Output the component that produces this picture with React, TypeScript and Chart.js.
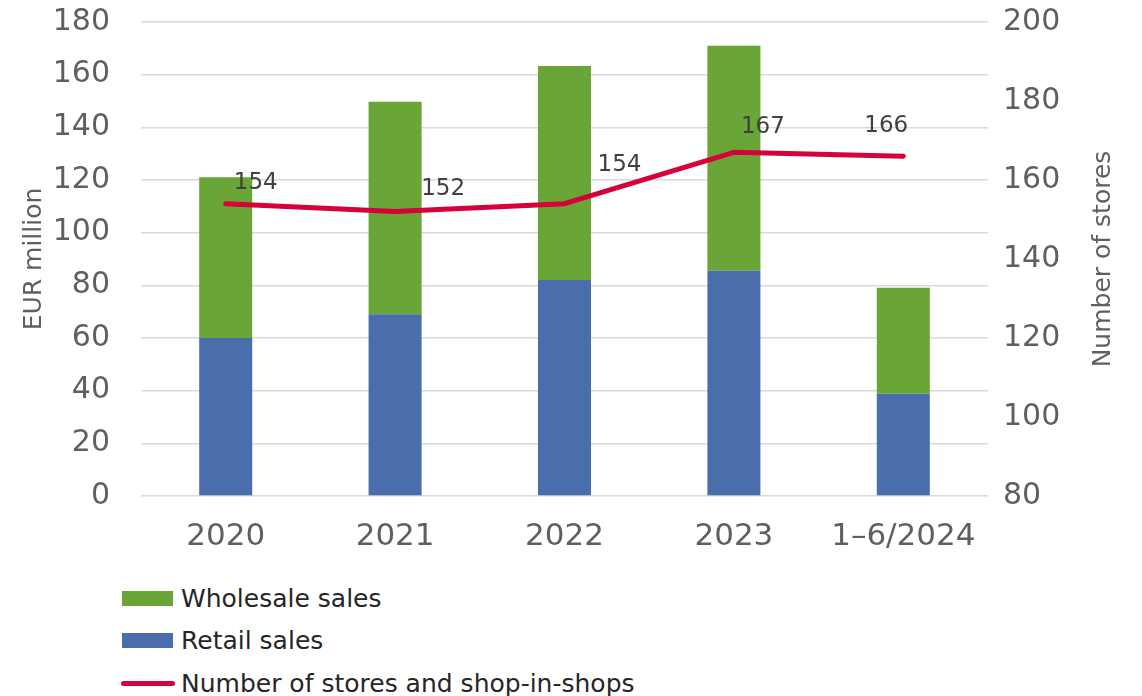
import React, { useEffect, useRef } from "react";
import { Chart, registerables } from "chart.js";

Chart.register(...registerables);

const categories = ["2020", "2021", "2022", "2023", "1–6/2024"];
const retailSales = [60, 69, 82, 85.5, 38.8];
const wholesaleSales = [61, 80.7, 81.3, 85.5, 40.3];
const storeCounts = [154, 152, 154, 167, 166];

const leftTicks = { min: 0, max: 180, step: 20 };
const rightTicks = { min: 80, max: 200, step: 20 };

const leftTitle = "EUR million";
const rightTitle = "Number of stores";

const GREEN = "#6AA637";
const BLUE = "#4A6DAB";
const RED = "#D6003A";
const FONT = "'DejaVu Sans', sans-serif";
const AXIS_GREY = "#5f5f5f";

// label placement (dx, dy) relative to each line point, as in the reference
const labelOffsets: [number, number][] = [
  [30, -21],
  [48, -23],
  [55, -39],
  [29, -25],
  [-17, -30],
];

const lineLabelPlugin = {
  id: "lineLabels",
  afterDatasetsDraw(chart: any) {
    const idx = chart.data.datasets.findIndex((d: any) => d.type === "line");
    if (idx < 0) return;
    const meta = chart.getDatasetMeta(idx);
    const ctx = chart.ctx;
    ctx.save();
    ctx.font = `23px ${FONT}`;
    ctx.fillStyle = "#404040";
    ctx.textAlign = "center";
    ctx.textBaseline = "middle";
    meta.data.forEach((pt: any, i: number) => {
      const [dx, dy] = labelOffsets[i] || [0, -20];
      ctx.fillText(String(chart.data.datasets[idx].data[i]), pt.x + dx, pt.y + dy);
    });
    ctx.restore();
  },
};

// right axis title reads bottom-to-top, like the left one
const rightTitlePlugin = {
  id: "rightTitle",
  afterDraw(chart: any) {
    const s = chart.scales.y1;
    const ctx = chart.ctx;
    ctx.save();
    ctx.translate(s.right - 39, (s.top + s.bottom) / 2);
    ctx.rotate(-Math.PI / 2);
    ctx.font = `25px ${FONT}`;
    ctx.fillStyle = AXIS_GREY;
    ctx.textAlign = "center";
    ctx.textBaseline = "middle";
    ctx.fillText(rightTitle, 0, 0);
    ctx.restore();
  },
};

export default function App() {
  const ref = useRef<HTMLCanvasElement>(null);

  useEffect(() => {
    if (!ref.current) return;
    const chart = new Chart(ref.current, {
      type: "bar",
      data: {
        labels: categories,
        datasets: [
          {
            type: "line",
            label: "Number of stores and shop-in-shops",
            data: storeCounts,
            yAxisID: "y1",
            borderColor: RED,
            backgroundColor: RED,
            borderWidth: 5,
            borderCapStyle: "round",
            borderJoinStyle: "round",
            pointRadius: 0,
            tension: 0,
            order: 0,
          } as any,
          {
            type: "bar",
            label: "Retail sales",
            data: retailSales,
            backgroundColor: BLUE,
            stack: "s",
            yAxisID: "y",
            order: 1,
          },
          {
            type: "bar",
            label: "Wholesale sales",
            data: wholesaleSales,
            backgroundColor: GREEN,
            stack: "s",
            yAxisID: "y",
            order: 1,
          },
        ],
      },
      options: {
        responsive: false,
        animation: false,
        layout: { padding: { top: 22, left: 0, right: 0, bottom: 0 } },
        datasets: {
          bar: { categoryPercentage: 1, barPercentage: 0.313 },
        },
        plugins: {
          legend: { display: false },
          tooltip: { enabled: false },
        },
        scales: {
          x: {
            stacked: true,
            grid: { display: false, drawTicks: false },
            border: { display: false },
            ticks: {
              font: { family: FONT, size: 31 },
              color: AXIS_GREY,
              padding: 22,
              maxRotation: 0,
            },
            afterFit: (s: any) => {
              s.height = 64;
              s.paddingLeft = 0;
              s.paddingRight = 0;
            },
          },
          y: {
            position: "left",
            stacked: true,
            min: leftTicks.min,
            max: leftTicks.max,
            grid: { color: "#d9d9d9", lineWidth: 1.6, drawTicks: false },
            border: { display: false },
            ticks: {
              stepSize: leftTicks.step,
              font: { family: FONT, size: 30 },
              color: AXIS_GREY,
              padding: 31,
            },
            title: {
              display: true,
              text: leftTitle,
              font: { family: FONT, size: 25 },
              color: AXIS_GREY,
              padding: { top: 19, bottom: 0 },
            },
            afterFit: (s: any) => {
              s.width = 141;
              s.paddingTop = 0;
              s.paddingBottom = 0;
            },
          },
          y1: {
            position: "right",
            min: rightTicks.min,
            max: rightTicks.max,
            grid: { display: false, drawTicks: false },
            border: { display: false },
            ticks: {
              stepSize: rightTicks.step,
              font: { family: FONT, size: 30 },
              color: AXIS_GREY,
              padding: 15,
            },
            afterFit: (s: any) => {
              s.width = 154;
              s.paddingTop = 0;
              s.paddingBottom = 0;
            },
          },
        },
      },
      plugins: [lineLabelPlugin, rightTitlePlugin],
    });
    return () => chart.destroy();
  }, []);

  const legendItems = [
    { label: "Wholesale sales", color: GREEN, kind: "box", cy: 598 },
    { label: "Retail sales", color: BLUE, kind: "box", cy: 640 },
    { label: "Number of stores and shop-in-shops", color: RED, kind: "line", cy: 683 },
  ];

  return (
    <div style={{ position: "absolute", left: 0, top: 0, width: 1142, height: 696, background: "#fff", overflow: "hidden" }}>
      <canvas ref={ref} width={1142} height={560} style={{ position: "absolute", left: 0, top: 0, width: 1142, height: 560 }} />
      {legendItems.map((it) => (
        <div
          key={it.label}
          style={{
            position: "absolute",
            left: 120,
            top: it.cy - 18,
            height: 36,
            display: "flex",
            alignItems: "center",
            fontFamily: FONT,
            fontSize: 25,
            color: "#262626",
            whiteSpace: "nowrap",
          }}
        >
          {it.kind === "box" ? (
            <span style={{ display: "inline-block", width: 51, height: 15, background: it.color, marginLeft: 2, marginRight: 8 }} />
          ) : (
            <span style={{ display: "inline-block", width: 54, height: 5, borderRadius: 3, background: it.color, marginLeft: 1, marginRight: 6 }} />
          )}
          <span>{it.label}</span>
        </div>
      ))}
    </div>
  );
}
